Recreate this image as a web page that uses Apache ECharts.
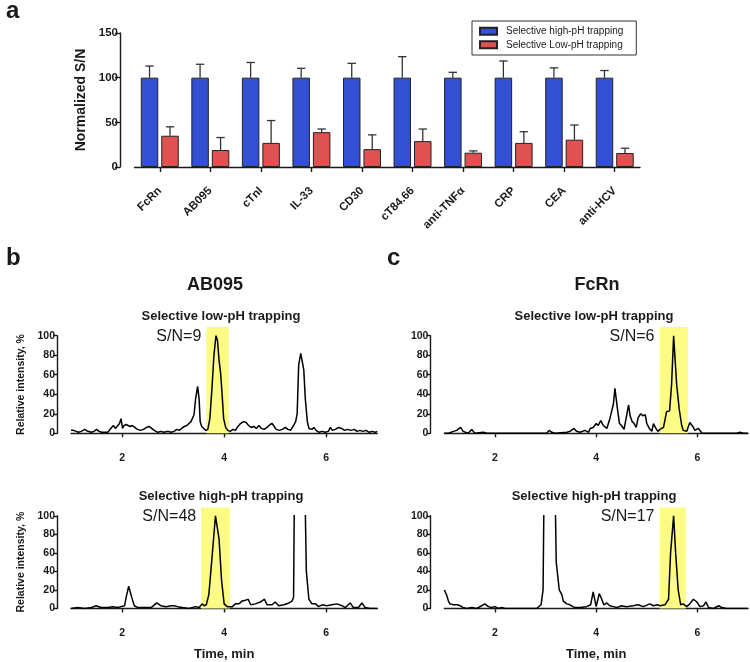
<!DOCTYPE html>
<html>
<head>
<meta charset="utf-8">
<script src="https://cdn.jsdelivr.net/npm/echarts@6/dist/echarts.min.js"></script>
<style>html,body{margin:0;padding:0;background:#fff}#c{width:750px;height:662px}</style>
</head>
<body>
<div id="c"></div>
<script>
// ---------- Panel a data ----------
const categories = ['FcRn','AB095','cTnI','IL-33','CD30','cT84.66','anti-TNF\u03b1','CRP','CEA','anti-HCV'];
const highPH = [100,100,100,100,100,100,100,100,100,100];
const highPHSD = [13,15,17,10.5,16,23.5,6,18.7,11,8];
const lowPH = [35,19,27,39,20,29,16,27,30.6,15.7];
const lowPHSD = [10,14,25,3.5,16,13.5,2,12.5,16.4,5.3];
const yTicksA = [0,50,100,150];

// ---------- Chromatograms [time (min), relative intensity %] ----------
const ab095LowPH = [[1.0,3],[1.05,3],[1.1,2],[1.15,1],[1.2,2],[1.27,4],[1.33,2],[1.4,1],[1.45,2],[1.5,4],[1.55,2],[1.6,1],[1.65,1],[1.72,1],[1.78,5],[1.83,8],[1.87,5],[1.9,7],[1.95,10],[1.98,15],[2.01,5],[2.04,8],[2.08,9],[2.12,8],[2.16,7],[2.2,8],[2.25,6],[2.3,4],[2.36,3],[2.42,4],[2.48,6],[2.53,7],[2.58,5],[2.63,3],[2.7,1],[2.76,2],[2.82,1],[2.9,2],[2.96,1],[3.02,2],[3.07,4],[3.12,3],[3.17,5],[3.22,7],[3.27,8],[3.31,10],[3.35,12],[3.38,11],[3.41,19],[3.44,35],[3.48,48],[3.51,35],[3.53,12],[3.56,7],[3.6,5],[3.64,3],[3.68,4],[3.72,15],[3.76,45],[3.8,80],[3.84,100],[3.87,95],[3.9,75],[3.93,62],[3.96,40],[3.99,15],[4.03,6],[4.07,3],[4.12,2],[4.17,4],[4.22,3],[4.27,7],[4.32,10],[4.38,12],[4.43,11],[4.48,8],[4.53,6],[4.58,7],[4.63,5],[4.68,8],[4.73,5],[4.78,4],[4.84,6],[4.9,9],[4.94,10],[4.98,7],[5.02,4],[5.08,3],[5.14,4],[5.2,6],[5.25,4],[5.3,3],[5.36,8],[5.4,12],[5.43,20],[5.46,70],[5.5,82],[5.53,80],[5.56,65],[5.59,35],[5.63,12],[5.66,5],[5.69,7],[5.72,4],[5.76,6],[5.8,3],[5.86,1],[5.92,2],[5.98,1],[6.04,2],[6.08,6],[6.12,3],[6.18,4],[6.24,6],[6.3,5],[6.36,3],[6.42,4],[6.48,3],[6.55,4],[6.6,2],[6.66,3],[6.72,2],[6.78,3],[6.84,1],[6.9,2],[6.96,1],[7.0,2]];

const ab095HighPH = [[1.0,0],[1.13,1],[1.27,0],[1.4,1],[1.49,3],[1.59,1],[1.72,1],[1.82,2],[1.92,1],[1.98,2],[2.05,3],[2.08,12],[2.13,24],[2.19,12],[2.24,3],[2.31,1],[2.57,1],[2.68,6],[2.76,3],[2.86,2],[2.96,3],[3.02,3],[3.09,2],[3.18,1],[3.31,0],[3.44,2],[3.51,1],[3.57,5],[3.61,3],[3.65,4],[3.7,15],[3.77,60],[3.83,100],[3.9,75],[3.95,30],[4.0,5],[4.06,2],[4.16,2],[4.22,5],[4.29,5],[4.35,8],[4.42,9],[4.47,10],[4.52,4],[4.61,5],[4.71,7],[4.79,10],[4.84,4],[4.94,4],[5.0,7],[5.07,3],[5.17,4],[5.27,6],[5.33,8],[5.36,12],[5.4,300],[5.53,300],[5.61,40],[5.66,10],[5.72,5],[5.79,5],[5.85,2],[5.92,4],[6.01,3],[6.11,4],[6.21,5],[6.31,3],[6.37,1],[6.47,6],[6.53,1],[6.63,1],[6.7,6],[6.76,1],[6.86,0],[7.0,0]];

const fcrnLowPH = [[1.0,0],[1.08,0],[1.18,2],[1.24,3],[1.32,6],[1.37,2],[1.47,0],[1.54,4],[1.6,0],[1.77,1],[1.84,0],[3.02,0],[3.07,3],[3.12,1],[3.19,0],[3.42,1],[3.48,2],[3.56,5],[3.61,2],[3.68,1],[3.78,3],[3.85,1],[3.88,5],[3.94,6],[4.0,10],[4.04,8],[4.09,13],[4.14,8],[4.21,5],[4.27,15],[4.34,30],[4.37,46],[4.42,25],[4.46,10],[4.5,8],[4.55,4],[4.59,15],[4.64,29],[4.67,18],[4.71,12],[4.75,10],[4.79,6],[4.83,16],[4.88,20],[4.92,18],[4.97,19],[5.0,10],[5.05,5],[5.1,2],[5.13,10],[5.18,5],[5.22,2],[5.26,4],[5.33,6],[5.39,22],[5.45,23],[5.49,50],[5.53,100],[5.56,75],[5.59,50],[5.64,25],[5.69,8],[5.72,3],[5.79,2],[5.85,11],[5.91,7],[5.95,3],[6.02,5],[6.09,0],[6.78,0],[6.84,1],[6.91,0],[7.0,0]];

const fcrnHighPH = [[1.0,20],[1.04,15],[1.08,8],[1.11,5],[1.18,4],[1.21,2],[1.26,4],[1.31,3],[1.37,1],[1.44,0],[1.54,1],[1.64,0],[1.8,5],[1.87,2],[1.93,1],[2.0,2],[2.07,0],[2.13,1],[2.2,0],[2.82,0],[2.91,4],[2.95,20],[3.0,300],[3.14,300],[3.21,50],[3.27,20],[3.32,15],[3.35,8],[3.42,5],[3.48,4],[3.54,2],[3.58,1],[3.68,1],[3.81,2],[3.89,4],[3.94,18],[4.0,2],[4.06,16],[4.11,10],[4.15,4],[4.21,6],[4.27,3],[4.34,2],[4.41,1],[4.5,3],[4.6,2],[4.73,3],[4.83,4],[4.93,2],[5.06,5],[5.13,3],[5.21,4],[5.26,3],[5.36,4],[5.43,10],[5.47,60],[5.53,100],[5.57,60],[5.62,20],[5.67,4],[5.72,5],[5.79,2],[5.85,5],[5.92,10],[5.99,7],[6.05,2],[6.12,3],[6.17,7],[6.22,1],[6.32,0],[6.42,3],[6.48,1],[6.58,0],[7.0,0]];

// Highlighted elution windows [start, end, top] and S/N labels
const ab095LowBand = [[3.65,4.09,109]];
const ab095HighBand = [[3.55,4.11,109]];
const fcrnLowBand = [[5.25,5.81,109]];
const fcrnHighBand = [[5.25,5.77,109]];
const snLabels = ['S/N=9','S/N=48','S/N=6','S/N=17'];
const timeTicks = [2,4,6];

const FONT = '"Liberation Sans", Arial, Helvetica, sans-serif';
const INK = '#1a1a1a';
const BLUE = '#3350d2';
const RED = '#e05252';
const YELLOW = '#fcfb84';

const chart = echarts.init(document.getElementById('c'), null, {renderer:'canvas'});

function errRender(offset){
  return function(params, api){
    const i = api.value(0), m = api.value(1), sd = api.value(2);
    const b = api.coord([i, m]);
    const t = api.coord([i, m + sd]);
    const cx = b[0] + offset;
    const st = {stroke:'#333', lineWidth:1.3};
    return {type:'group', children:[
      {type:'line', shape:{x1:cx, y1:b[1], x2:cx, y2:t[1]}, style:st},
      {type:'line', shape:{x1:cx-4.2, y1:t[1], x2:cx+4.2, y2:t[1]}, style:st}
    ]};
  };
}
function bandRender(label){
  return function(params, api){
    const p0 = api.coord([api.value(0), 0]);
    const p1 = api.coord([api.value(1), api.value(2)]);
    const pt = api.coord([api.value(0), 100]);
    return {type:'group', children:[
      {type:'rect', shape:{x:p0[0], y:p1[1], width:p1[0]-p0[0], height:p0[1]-p1[1]}, style:{fill:YELLOW}},
      {type:'text', x:p0[0]-5, y:pt[1]+1, style:{text:label, align:'right', verticalAlign:'middle', fontSize:16, fontFamily:FONT, fill:INK}}
    ]};
  };
}

const axLine = {show:true, lineStyle:{color:INK, width:1.4}};
const axTick = {show:true, inside:false, length:4, lineStyle:{color:INK, width:1.4}};

function chromX(gi, showName){
  return {type:'value', gridIndex:gi, min:1, max:7, offset:13.5,
    axisLine:axLine, axisTick:Object.assign({}, axTick, {customValues:timeTicks, length:4}),
    axisLabel:{customValues:timeTicks, margin:6, fontSize:10.5, fontWeight:'bold', color:INK, fontFamily:FONT},
    splitLine:{show:false},
    name: showName ? 'Time, min' : '', nameLocation:'middle', nameGap:26,
    nameTextStyle:{fontSize:13, fontWeight:'bold', color:INK, fontFamily:FONT}};
}
function chromY(gi, showName){
  return {type:'value', gridIndex:gi, min:0, max:100, interval:20, offset:14,
    axisLine:axLine, axisTick:axTick,
    axisLabel:{margin:2, fontSize:10.5, fontWeight:'bold', color:INK, fontFamily:FONT},
    splitLine:{show:false},
    name: showName ? 'Relative intensity, %' : '', nameLocation:'middle', nameGap:30,
    nameTextStyle:{fontSize:10.5, fontWeight:'bold', color:INK, fontFamily:FONT}};
}
function trace(gi, data){
  return {type:'line', xAxisIndex:gi, yAxisIndex:gi, data:data, showSymbol:false, symbol:'none',
    clip:true, z:3, lineStyle:{color:'#000', width:1.5}, silent:true};
}
function band(gi, data, label){
  return {type:'custom', xAxisIndex:gi, yAxisIndex:gi, data:data, renderItem:bandRender(label), clip:false, z:1, silent:true};
}

const titleStyle = (size) => ({fontSize:size, fontWeight:'bold', color:INK, fontFamily:FONT});

const option = {
  animation:false,
  backgroundColor:'#fff',
  title:[
    {text:'a', left:1, top:-6, textStyle:titleStyle(24)},
    {text:'b', left:1, top:241, textStyle:titleStyle(24)},
    {text:'c', left:382, top:241, textStyle:titleStyle(24)},
    {text:'AB095', left:210, top:271, textAlign:'center', textStyle:titleStyle(18)},
    {text:'FcRn', left:592, top:271, textAlign:'center', textStyle:titleStyle(18)},
    {text:'Selective low-pH trapping', left:216, top:305, textAlign:'center', textStyle:titleStyle(13)},
    {text:'Selective high-pH trapping', left:216, top:485, textAlign:'center', textStyle:titleStyle(13)},
    {text:'Selective low-pH trapping', left:589, top:305, textAlign:'center', textStyle:titleStyle(13)},
    {text:'Selective high-pH trapping', left:589, top:485, textAlign:'center', textStyle:titleStyle(13)}
  ],
  legend:{
    data:['Selective high-pH trapping','Selective Low-pH trapping'],
    icon:'rect',
    orient:'vertical', left:472, top:21, padding:[4,13,4,7], itemGap:1,
    itemWidth:17, itemHeight:7, borderColor:'#333', borderWidth:1, borderRadius:0,
    textStyle:{fontSize:10, lineHeight:12.5, color:INK, fontFamily:FONT, padding:[0,0,0,4]},
    selectedMode:false
  },
  grid:[
    {left:134.5, top:33, width:505.5, height:134},
    {left:71, top:335.7, width:306.3, height:97.6},
    {left:71, top:515.8, width:306.3, height:96.2},
    {left:444.4, top:335.7, width:303.6, height:97.6},
    {left:444.4, top:515.8, width:303.6, height:96.2}
  ],
  xAxis:[
    {type:'category', gridIndex:0, data:categories, offset:15,
     axisLine:axLine, axisTick:Object.assign({}, axTick, {alignWithLabel:true, length:5}),
     axisLabel:{rotate:45, margin:7, fontSize:11.5, fontWeight:'bold', color:INK, fontFamily:FONT, interval:0},
     splitLine:{show:false}},
    chromX(1,false), chromX(2,true), chromX(3,false), chromX(4,true)
  ],
  yAxis:[
    {type:'value', gridIndex:0, min:0, max:150, interval:50, offset:14.5,
     axisLine:axLine, axisTick:Object.assign({}, axTick, {length:5}),
     axisLabel:{margin:2, fontSize:11.5, fontWeight:'bold', color:INK, fontFamily:FONT, customValues:yTicksA},
     splitLine:{show:false},
     name:'Normalized S/N', nameLocation:'middle', nameGap:26,
     nameTextStyle:{fontSize:14, fontWeight:'bold', color:INK, fontFamily:FONT}},
    chromY(1,true), chromY(2,true), chromY(3,false), chromY(4,false)
  ],
  series:[
    {name:'Selective high-pH trapping', type:'bar', xAxisIndex:0, yAxisIndex:0, data:highPH,
     barWidth:17.5, barGap:'17%', itemStyle:{color:BLUE, borderColor:'#222', borderWidth:1}},
    {name:'Selective Low-pH trapping', type:'bar', xAxisIndex:0, yAxisIndex:0, data:lowPH,
     barWidth:17.5, barGap:'17%', itemStyle:{color:RED, borderColor:'#222', borderWidth:1}},
    {type:'custom', xAxisIndex:0, yAxisIndex:0, z:5, silent:true,
     data:categories.map((c,i)=>[i, highPH[i], highPHSD[i]]), renderItem:errRender(-10.25)},
    {type:'custom', xAxisIndex:0, yAxisIndex:0, z:5, silent:true,
     data:categories.map((c,i)=>[i, lowPH[i], lowPHSD[i]]), renderItem:errRender(10.25)},
    band(1, ab095LowBand, snLabels[0]),
    band(2, ab095HighBand, snLabels[1]),
    band(3, fcrnLowBand, snLabels[2]),
    band(4, fcrnHighBand, snLabels[3]),
    trace(1, ab095LowPH),
    trace(2, ab095HighPH),
    trace(3, fcrnLowPH),
    trace(4, fcrnHighPH)
  ]
};
chart.setOption(option);
</script>
</body>
</html>
